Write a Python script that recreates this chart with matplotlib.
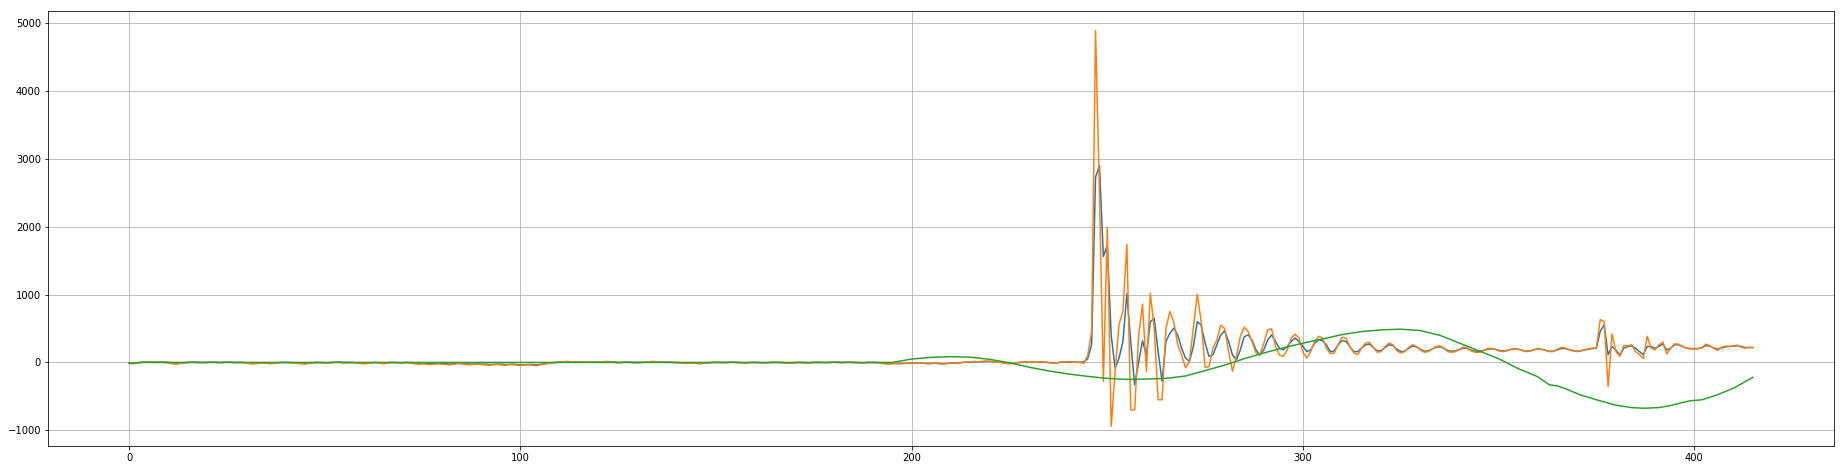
import matplotlib
matplotlib.use("Agg")
import matplotlib.pyplot as plt
import numpy as np

# ---- data ---------------------------------------------------------------
x_index = list(range(0, 416))

blue_values = [
    # 0-19
    -5, -10, -5, 0, 5, 5, 5, 5, 5, 5, 0, -10, -15, -10, -5, 0, 5, 5, 0, 0,
    # 20-39
    0, 5, 5, 0, 0, 5, 5, 0, 0, 0, -5, -10, -10, -10, -5, -5, -10, -10, -5, 0,
    # 40-59
    0, 0, -5, -10, -10, -15, -10, -5, 0, 0, -5, -5, 0, 5, 5, 0, 0, 0, -5, -10,
    # 60-79
    -10, -10, -5, 0, -5, -10, -5, 0, 0, -5, -5, 0, -5, -10, -15, -15, -15, -20, -20, -15,
    # 80-99
    -20, -20, -25, -20, -15, -15, -20, -25, -25, -20, -25, -25, -30, -30, -25, -25, -30, -30, -25, -30,
    # 100-119
    -35, -35, -30, -30, -35, -30, -20, -15, -5, 0, 5, 10, 10, 10, 5, 5, 5, 5, 5, 5,
    # 120-139
    5, 10, 10, 10, 5, 0, 0, 5, 5, 0, 0, 0, 5, 10, 10, 10, 5, 5, 5, 0,
    # 140-159
    0, -5, -10, -10, -5, -10, -15, -10, -5, 0, 0, 0, 0, 0, 5, 0, 0, -5, -5, 0,
    # 160-179
    0, 0, -5, -5, 0, 0, 0, 0, -10, -10, -5, 0, 0, -5, -5, 0, 0, 0, 0, 0,
    # 180-199
    5, 5, 0, 0, 5, 0, 0, -5, -5, 0, 0, 0, -5, -10, -15, -15, -15, -15, -15, -10,
    # 200-219
    -10, -10, -5, -10, -15, -15, -10, -15, -20, -15, -10, -10, -5, 0, 5, 5, 10, 10, 10, 15,
    # 220-239
    15, 10, 5, 0, -10, -15, -10, -5, 0, 5, 5, 5, 5, 5, 5, 0, -5, -5, 0, 5,
    # 240-259
    5, 5, 5, 5, 10, 55, 260, 2730, 2900, 1560, 1730, 400, -85, 65, 310, 1010, 300, -330, 0, 320,
    # 260-279
    110, 600, 650, 160, -280, 310, 430, 505, 405, 210, 65, 15, 235, 600, 550, 285, 90, 110, 260, 405,
    # 280-299
    465, 310, 110, 40, 185, 380, 405, 330, 185, 110, 185, 330, 405, 310, 210, 185, 235, 310, 360, 310,
    # 300-319
    235, 160, 185, 285, 335, 320, 260, 160, 170, 260, 320, 310, 235, 160, 160, 210, 260, 270, 220, 170,
    # 320-339
    175, 220, 260, 250, 195, 160, 165, 205, 240, 230, 195, 165, 170, 195, 225, 230, 210, 175, 165, 170,
    # 340-359
    190, 210, 205, 180, 165, 165, 175, 190, 200, 195, 180, 170, 175, 190, 200, 195, 180, 165, 170, 185,
    # 360-379
    200, 195, 180, 165, 165, 185, 205, 205, 190, 175, 165, 170, 185, 195, 205, 210, 460, 555, 113, 235,
    # 380-399
    180, 110, 210, 235, 245, 210, 160, 115, 235, 235, 210, 235, 270, 185, 210, 260, 260, 235, 210, 205,
    # 400-415
    205, 205, 215, 250, 240, 215, 195, 215, 230, 235, 240, 245, 235, 220, 220, 220,
]

orange_values = [
    # 0-19
    -15, -20, -10, 0, 5, 5, 0, 0, 5, 0, -5, -20, -25, -15, -5, 0, 5, 0, -5, 0,
    # 20-39
    0, 5, 0, -5, 0, 5, 0, -5, 0, 0, -10, -20, -20, -15, -5, -10, -20, -15, -5, 0,
    # 40-59
    0, -5, -10, -15, -20, -25, -15, -5, 0, -5, -10, -5, 0, 5, 0, -10, -5, 0, -10, -15,
    # 60-79
    -20, -15, -5, 0, -10, -20, -10, 0, -5, -10, -5, 0, -10, -20, -25, -20, -25, -30, -25, -20,
    # 80-99
    -25, -30, -35, -25, -15, -20, -30, -35, -30, -25, -30, -35, -40, -35, -30, -35, -40, -35, -30, -40,
    # 100-119
    -45, -40, -35, -40, -45, -35, -25, -15, -10, 0, 5, 10, 15, 10, 5, 0, 5, 10, 5, 0,
    # 120-139
    5, 10, 15, 10, 0, -5, 0, 5, 0, -5, -5, 0, 5, 10, 15, 10, 5, 0, 5, 0,
    # 140-159
    -5, -10, -15, -10, -5, -15, -20, -10, -5, 0, 5, 0, -5, 0, 5, 0, -5, -10, -5, 0,
    # 160-179
    0, -5, -10, -5, 0, 5, 0, -5, -15, -10, -5, 0, -5, -10, -5, 0, 5, 0, -5, 0,
    # 180-199
    5, 0, -5, 0, 5, 0, -5, -10, -5, 0, 0, -5, -10, -20, -25, -20, -15, -20, -15, -10,
    # 200-219
    -15, -10, -5, -10, -20, -15, -10, -20, -25, -15, -5, -10, -5, 0, 5, 10, 15, 10, 15, 20,
    # 220-239
    15, 10, 5, -5, -15, -20, -10, 0, 5, 10, 5, 0, 5, 10, 5, -5, -10, -5, 5, 10,
    # 240-259
    10, 5, 0, 0, -15, 100, 460, 4890, 2500, -280, 1990, -940, -130, 555, 760, 1740, -700, -700, 380, 860,
    # 260-279
    -130, 1020, 500, -550, -550, 505, 750, 600, 260, 110, -80, 15, 505, 1005, 600, -75, -60, 210, 330, 550,
    # 280-299
    500, 160, -130, 90, 380, 520, 455, 310, 140, 110, 280, 480, 495, 235, 110, 90, 185, 360, 415, 360,
    # 300-319
    150, 65, 160, 310, 385, 360, 210, 130, 140, 260, 370, 360, 235, 140, 115, 210, 285, 295, 220, 150,
    # 320-339
    160, 235, 285, 260, 175, 140, 160, 220, 260, 235, 185, 150, 160, 195, 235, 245, 210, 160, 150, 160,
    # 340-359
    195, 225, 210, 170, 150, 150, 170, 200, 210, 195, 170, 160, 170, 190, 205, 195, 175, 160, 165, 190,
    # 360-379
    205, 195, 175, 160, 160, 195, 220, 215, 190, 170, 160, 170, 190, 200, 210, 215, 630, 605, -355, 420,
    # 380-399
    160, 90, 250, 245, 260, 160, 115, 55, 385, 210, 185, 260, 300, 125, 210, 275, 270, 235, 210, 200,
    # 400-415
    200, 200, 220, 270, 245, 210, 175, 225, 240, 235, 245, 255, 225, 210, 225, 215,
]

green_x = [0, 3, 20, 40, 60, 80, 100, 120, 140, 160, 180, 195, 200, 205, 210, 215,
           220, 225, 230, 235, 240, 245, 250, 255, 260, 265, 270, 275, 280, 285,
           290, 295, 300, 305, 310, 315, 320, 325, 330, 335, 340, 345, 350, 355,
           360, 363, 365, 367, 371, 375, 380, 384, 387, 391, 394, 397, 399, 402,
           406, 410, 415]
green_values = [-10, 0, 0, 0, 0, 0, 0, 0, 0, 0, 0, 0, 50, 75, 85, 78,
                45, -5, -70, -125, -170, -205, -235, -250, -245, -235, -200, -120, -40, 55,
                140, 215, 285, 345, 410, 455, 480, 490, 470, 400, 285, 170, 55, -90,
                -210, -330, -345, -385, -480, -550, -630, -665, -675, -665, -635, -590, -565, -550,
                -475, -380, -220]

# ---- plot ---------------------------------------------------------------
DPI = 72
fig = plt.figure(figsize=(1844 / DPI, 469 / DPI), dpi=DPI)
ax = fig.add_subplot(111)
fig.subplots_adjust(left=0.026, right=0.9946, top=0.977, bottom=0.049)

ax.plot(x_index, blue_values, color="C0")
ax.plot(x_index, orange_values, color="C1")
ax.plot(green_x, green_values, color="C2")

ax.grid(True)

fig.savefig("out.png", dpi=DPI)
